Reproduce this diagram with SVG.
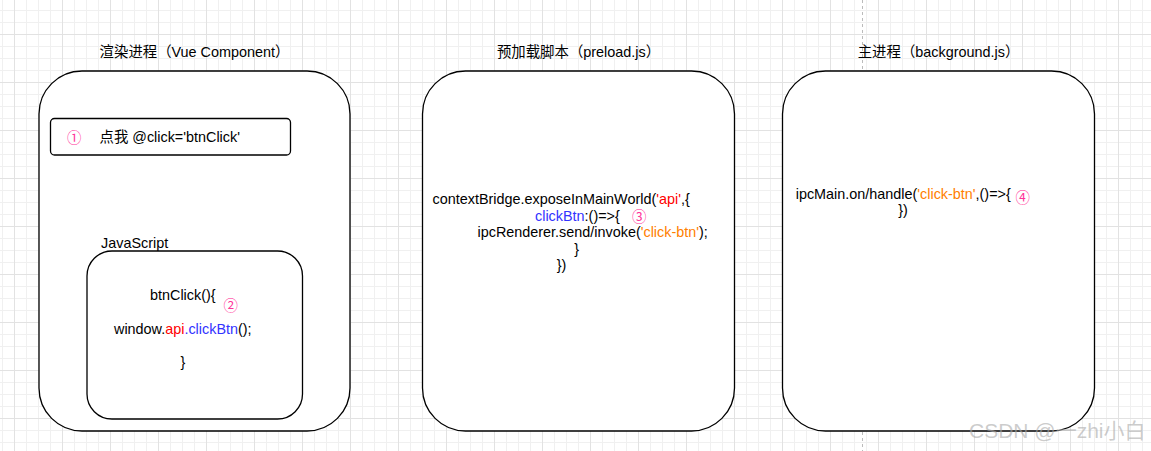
<svg xmlns="http://www.w3.org/2000/svg" width="1151" height="451" viewBox="0 0 1151 451">
<style>
  .t { font-family: "Liberation Sans", Arial, "Noto Sans CJK SC", sans-serif; font-size: 14.4px; fill: #000; }
  .n { font-family: "Noto Sans CJK SC", "Liberation Sans", sans-serif; font-size: 14.4px; fill: #FF3399; }
  .box { fill: #fff; stroke: #000; stroke-width: 1.3; }
  .red { fill: #FF0000; }
  .blue { fill: #3333FF; }
  .orange { fill: #FF8000; }
</style>
<defs>
  <pattern id="grid" x="14" y="34" width="48" height="48" patternUnits="userSpaceOnUse">
    <rect x="0" y="0" width="48" height="48" fill="#fff"/>
    <g fill="#f0f0f0">
      <rect x="12" y="0" width="1" height="48"/>
      <rect x="24" y="0" width="1" height="48"/>
      <rect x="36" y="0" width="1" height="48"/>
      <rect x="0" y="12" width="48" height="1"/>
      <rect x="0" y="24" width="48" height="1"/>
      <rect x="0" y="36" width="48" height="1"/>
    </g>
    <g fill="#e2e2e2">
      <rect x="0" y="0" width="1" height="48"/>
      <rect x="0" y="0" width="48" height="1"/>
    </g>
  </pattern>
</defs>
<rect x="0" y="0" width="1151" height="451" fill="url(#grid)"/>
<line x1="862.5" y1="0" x2="862.5" y2="451" stroke="#bbb" stroke-width="1" stroke-dasharray="3 3"/>

<g id="renderer">
  <text class="t" x="194.5" y="57" text-anchor="middle">渲染进程（Vue Component）</text>
  <rect class="box" x="39" y="71" width="311" height="360" rx="43" ry="43"/>
  <g id="button">
    <rect class="box" x="50.5" y="118.5" width="240" height="36.5" rx="4" ry="4"/>
    <text class="n" x="67" y="142.5">①</text>
    <text class="t" x="99.5" y="141.5">点我 @click='btnClick'</text>
  </g>
  <g id="javascript">
    <text class="t" x="101" y="248">JavaScript</text>
    <rect class="box" x="87" y="251" width="215.5" height="168" rx="25" ry="25"/>
    <text class="t" x="150" y="300">btnClick(){</text>
    <text class="n" x="223.5" y="310.5">②</text>
    <text class="t" x="114" y="333.5">window.<tspan class="red">api</tspan><tspan class="blue">.clickBtn</tspan>();</text>
    <text class="t" x="180.5" y="367">}</text>
  </g>
</g>

<g id="preload">
  <text class="t" x="578.5" y="57" text-anchor="middle">预加载脚本（preload.js）</text>
  <rect class="box" x="422.5" y="71" width="312" height="360" rx="43" ry="43"/>
  <text class="t" x="432.5" y="204">contextBridge.exposeInMainWorld(<tspan class="red">'api'</tspan>,{</text>
  <text class="t" x="535" y="220.5"><tspan class="blue">clickBtn</tspan>:()=&gt;{</text>
  <text class="n" x="632" y="222" font-size="14">③</text>
  <text class="t" x="477.5" y="237">ipcRenderer.send/invoke(<tspan class="orange">'click-btn'</tspan>);</text>
  <text class="t" x="574.3" y="253.5">}</text>
  <text class="t" x="556.7" y="270.3">})</text>
</g>

<g id="main">
  <text class="t" x="938.5" y="57" text-anchor="middle">主进程（background.js）</text>
  <rect class="box" x="782.5" y="71" width="312" height="360" rx="43" ry="43"/>
  <text class="t" x="795.7" y="198.5">ipcMain.on/handle(<tspan class="orange">'click-btn'</tspan>,()=&gt;{</text>
  <text class="n" x="1015.5" y="202.5">④</text>
  <text class="t" x="898.3" y="215">})</text>
</g>

<g id="connectors"/>

<text x="969" y="437.5" font-family="'Liberation Sans', 'Noto Sans CJK SC', sans-serif" font-size="21" fill="#aaaaaa" fill-opacity="0.6">CSDN @一zhi小白</text>
</svg>
